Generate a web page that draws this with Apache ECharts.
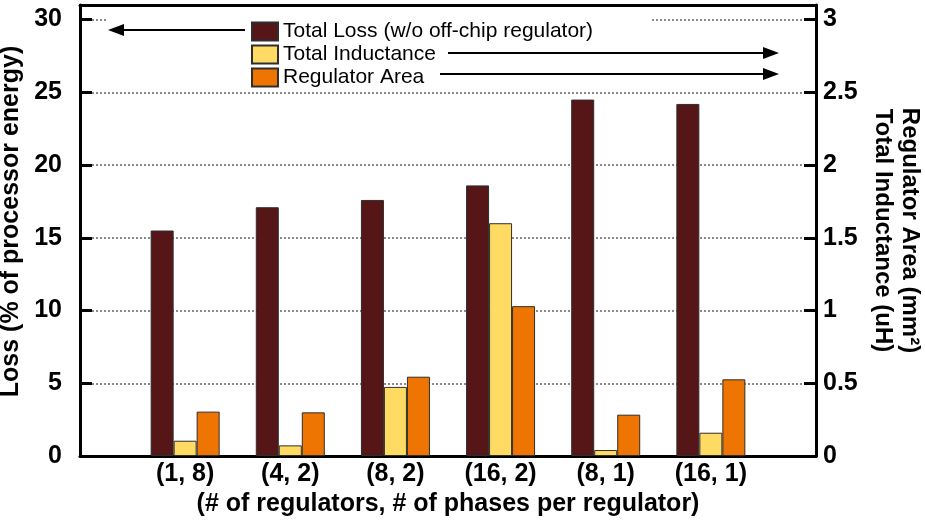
<!DOCTYPE html>
<html>

<head>
    <meta charset="UTF-8">
    <title>Regulator loss chart</title>
    <script src="https://cdn.jsdelivr.net/npm/echarts@6/dist/echarts.min.js"></script>
    <style>
        body {
            margin: 0;
            background-color: #ffffff;
        }

        #chart {
            width: 925px;
            height: 520px;
        }
    </style>
</head>

<body>
    <div id="chart"></div>
</body>
<script>
    var categories = ['(1, 8)', '(4, 2)', '(8, 2)', '(16, 2)', '(8, 1)', '(16, 1)'];
    var totalLoss = [15.5, 17.1, 17.6, 18.6, 24.5, 24.2];
    var totalInductance = [0.105, 0.073, 0.475, 1.6, 0.041, 0.16];
    var regulatorArea = [0.305, 0.3, 0.545, 1.03, 0.284, 0.527];
    var leftTicks = [0, 5, 10, 15, 20, 25, 30];
    var rightTicks = [0, 0.5, 1, 1.5, 2, 2.5, 3];

    var font = "'Liberation Sans', Arial, sans-serif";

    function pairs(arr) {
        return arr.map(function (v, i) { return [i, v]; });
    }

    var barStyle = function (color) {
        return {
            color: color,
            borderColor: '#2e2e2e',
            borderWidth: 1
        };
    };

    var boldText = {
        fontFamily: font,
        fontSize: 25,
        fontWeight: 'bold',
        color: '#000'
    };

    var chart = echarts.init(document.getElementById('chart'));
    var option = {
        animation: false,
        grid: {
            left: 80,
            right: 109,
            top: 5,
            bottom: 64,
            containLabel: false,
            outerBoundsMode: 'none'
        },
        legend: {
            orient: 'vertical',
            left: 246,
            top: 16,
            icon: 'rect',
            itemWidth: 26,
            itemHeight: 18,
            itemGap: 2,
            padding: 5,
            z: 6,
            textStyle: {
                fontFamily: font,
                fontSize: 21,
                color: '#000'
            },
            data: ['Total Loss (w/o off-chip regulator)', 'Total Inductance', 'Regulator Area']
        },
        xAxis: [{
            type: 'value',
            min: -1,
            max: 6,
            interval: 1,
            position: 'bottom',
            name: '(# of regulators, # of phases per regulator)',
            nameLocation: 'middle',
            nameGap: 34,
            nameTextStyle: boldText,
            axisLine: { onZero: false, lineStyle: { color: '#000', width: 3 } },
            axisTick: { show: false },
            splitLine: { show: false },
            axisLabel: {
                margin: 6,
                fontFamily: font,
                fontSize: 25,
                fontWeight: 'bold',
                color: '#000',
                formatter: function (v) {
                    return categories[v] || '';
                }
            }
        }, {
            type: 'value',
            min: -1,
            max: 6,
            position: 'top',
            axisLine: { onZero: false, lineStyle: { color: '#000', width: 3 } },
            axisTick: { show: false },
            axisLabel: { show: false },
            splitLine: { show: false }
        }],
        yAxis: [{
            type: 'value',
            min: 0,
            max: 31,
            interval: 5,
            position: 'left',
            name: 'Loss (% of processor energy)',
            nameLocation: 'middle',
            nameGap: 44,
            nameTextStyle: {
                fontFamily: font,
                fontSize: 25,
                fontWeight: 'bold',
                color: '#000',
                padding: [0, 0, 0, 18]
            },
            axisLine: { show: true, onZero: false, lineStyle: { color: '#000', width: 3 } },
            axisTick: { show: true, inside: true, length: 12, lineStyle: { color: '#000', width: 3 } },
            splitLine: { show: true, lineStyle: { color: '#8a8a8a', width: 2, type: [2, 2] } },
            axisLabel: {
                margin: 18,
                fontFamily: font,
                fontSize: 25,
                fontWeight: 'bold',
                color: '#000',
                formatter: function (v) {
                    return leftTicks.indexOf(v) >= 0 ? String(v) : '';
                }
            }
        }, {
            type: 'value',
            min: 0,
            max: 3.1,
            interval: 0.5,
            position: 'right',
            name: 'Regulator Area (mm²)\nTotal Inductance (uH)',
            nameLocation: 'middle',
            nameRotate: -90,
            nameGap: 48,
            nameTextStyle: {
                fontFamily: font,
                fontSize: 24,
                fontWeight: 'bold',
                color: '#000',
                lineHeight: 27,
                align: 'center'
            },
            axisLine: { show: true, onZero: false, lineStyle: { color: '#000', width: 3 } },
            axisTick: { show: true, inside: true, length: 12, lineStyle: { color: '#000', width: 3 } },
            splitLine: { show: false },
            axisLabel: {
                margin: 7,
                fontFamily: font,
                fontSize: 25,
                fontWeight: 'bold',
                color: '#000',
                formatter: function (v) {
                    return rightTicks.indexOf(v) >= 0 ? String(v) : '';
                }
            }
        }],
        graphic: [
            { type: 'rect', z: 3, shape: { x: 108, y: 11, width: 544, height: 77 }, style: { fill: '#ffffff' } },
            { type: 'line', z: 10, shape: { x1: 122, y1: 30, x2: 245, y2: 30 }, style: { stroke: '#000', lineWidth: 2 } },
            { type: 'polygon', z: 10, shape: { points: [[108, 30], [124, 24], [124, 36]] }, style: { fill: '#000' } },
            { type: 'line', z: 10, shape: { x1: 448, y1: 53, x2: 766, y2: 53 }, style: { stroke: '#000', lineWidth: 2 } },
            { type: 'polygon', z: 10, shape: { points: [[779, 53], [763, 47], [763, 59]] }, style: { fill: '#000' } },
            { type: 'line', z: 10, shape: { x1: 440, y1: 74, x2: 766, y2: 74 }, style: { stroke: '#000', lineWidth: 2 } },
            { type: 'polygon', z: 10, shape: { points: [[779, 74], [763, 68], [763, 80]] }, style: { fill: '#000' } }
        ],
        series: [{
            name: 'Total Loss (w/o off-chip regulator)',
            type: 'bar',
            xAxisIndex: 0,
            yAxisIndex: 0,
            barWidth: 23,
            barGap: '0%',
            itemStyle: barStyle('#561517'),
            data: pairs(totalLoss),
            z: 2
        }, {
            name: 'Total Inductance',
            type: 'bar',
            xAxisIndex: 0,
            yAxisIndex: 1,
            barWidth: 23,
            barGap: '0%',
            itemStyle: barStyle('#ffdb63'),
            data: pairs(totalInductance),
            z: 2
        }, {
            name: 'Regulator Area',
            type: 'bar',
            xAxisIndex: 0,
            yAxisIndex: 1,
            barWidth: 23,
            barGap: '0%',
            itemStyle: barStyle('#ee7501'),
            data: pairs(regulatorArea),
            z: 2
        }]
    };
    chart.setOption(option);
</script>

</html>
